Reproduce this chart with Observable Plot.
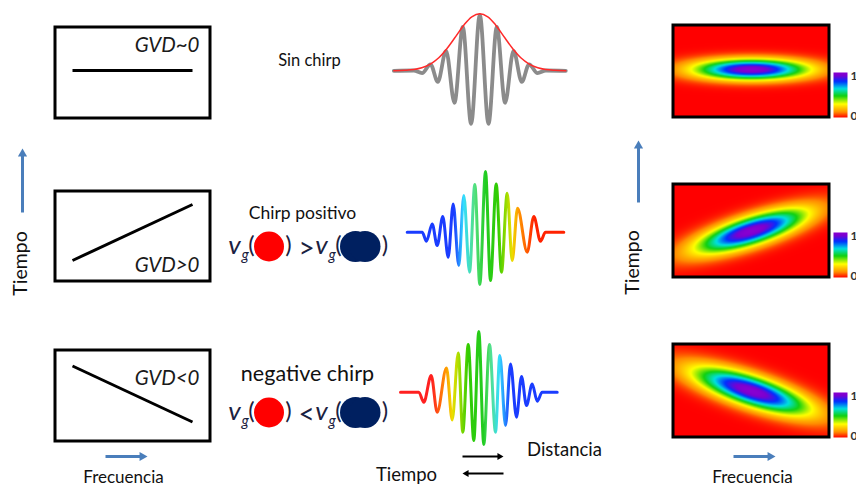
<!DOCTYPE html>
<html><head><meta charset="utf-8">
<script src="https://cdn.jsdelivr.net/npm/d3@7"></script>
<script src="https://cdn.jsdelivr.net/npm/@observablehq/plot@0.6"></script>
<style>html,body{margin:0;padding:0;overflow:hidden;background:#fff}</style>
</head><body><div id="chart"></div>
<script>
// ---------------- data ----------------
const gvdLabels = ["GVD~0", "GVD>0", "GVD<0"];
const gvdSlope = [0, 1, -1];
const chirpLabels = ["Sin chirp", "Chirp positivo", "negative chirp"];
const vgRelation = [">", "<"];
const timeLabel = "Tiempo";
const freqLabel = "Frecuencia";
const distLabel = "Distancia";
const colorbarTicks = ["1", "0"];

// pulse extrema: [time offset, field amplitude]
const grayPulse = [[-86,0],[-66,0.3],[-57.7,-2.3],[-49.3,6.5],[-42,-11],[-33.7,20],[-25.3,-32],[-17,44],[-8.7,-53],[0,56],
  [8.7,-53],[17,44],[25.3,-32],[33.7,20],[42,-11],[49.3,6.5],[57.7,-2.3],[66,0.3],[86,0]];
const grayEnvelope = [[-86,0],[-75,0.5],[-66,1.3],[-58,3],[-49,7],[-41,13],[-33,22],[-25,33],[-16,45.6],[-8,54],[0,57],
  [8,54],[16,45.6],[25,33],[33,22],[41,13],[49,7],[58,3],[66,1.3],[75,0.5],[86,0]];
const posChirp = [[-78.3,0],[-63.3,0],[-59,-9],[-53.3,8.3],[-48.3,-13.3],[-42.7,15.7],[-37.3,-25],[-32.3,28.3],[-26.7,-33.3],
  [-21.7,36.7],[-16,-40],[-10.7,47.7],[-5.7,-52.3],[0,60.7],[5,-48.3],[10.7,48.3],[16,-40],[21.7,39],[26.7,-28.3],[32,24],
  [41.7,-20],[48.3,15.7],[55,-9],[60,0],[78.3,0]];
const negChirp = [[-78.3,0],[-60,0],[-55,-10],[-47.6,16.7],[-41.6,-20],[-32.3,24.3],[-26.6,-27.7],[-20.6,39.3],[-16,-40],
  [-10.6,47.7],[-5,-48.3],[0,60.7],[5,-52.3],[10.7,47.7],[16.7,-40],[21,36.7],[26.7,-33.3],[31.7,28.3],[37.7,-25],[42.7,15.7],
  [47.7,-13.3],[53.4,8.3],[58.4,-9],[63.4,0],[78.4,0]];
const posColors = [[0,"#1a3cff"],[0.3,"#1a3cff"],[0.36,"#33ddff"],[0.43,"#55e080"],[0.5,"#22cc22"],[0.58,"#33cc00"],
  [0.64,"#aadd00"],[0.67,"#eedd00"],[0.71,"#ff9900"],[0.77,"#ff5500"],[0.81,"#ff2200"],[1,"#ff2200"]];
const negColors = [[0,"#ff2020"],[0.2,"#ff2020"],[0.29,"#ff9900"],[0.33,"#eedd00"],[0.37,"#aadd00"],[0.43,"#33cc00"],
  [0.53,"#22cc22"],[0.57,"#55e080"],[0.63,"#33ddff"],[0.7,"#1a3cff"],[1,"#1a3cff"]];

// time-frequency (Wigner) ellipses: semi-axes and tilt in degrees
const wigner = [{a: 55, b: 10, tilt: 0}, {a: 55, b: 13.5, tilt: 17.5}, {a: 58, b: 14.5, tilt: -18}];
const heatDomain = [0, 0.12, 0.3, 0.48, 0.64, 0.8, 0.93, 1];
const heatColors = ["#ff0000","#ff8c00","#ffff00","#10d010","#00e0e0","#0030ff","#7a00d0","#8a00d0"];

// ---------------- layout ----------------
const W = 856, H = 486;
const leftBox = {x1: 55, x2: 210, rows: [[27,118],[191,281],[350,441]], lineY: [70, 232, 393.5], lineX: [72, 192], half: 28};
const gvdPos = {x: 199, y: [45, 265, 378]};
const rightBox = {x1: 673, x2: 829, rows: [[25,117],[184,277],[344,437]]};
const cbar = {x1: 833, x2: 847, rows: [[72,117],[232,277],[392,437]]};
const pulseCenters = [[479.3, 70.3], [485, 231.7], [478.3, 391.7]];
const blue = "#4a7ebb";

const pts = (arr, [cx, cy]) => arr.map(([t, f]) => ({x: cx + t, y: cy - f}));

const marks = [];
// left boxes
leftBox.rows.forEach(([y1, y2], i) => {
  marks.push(Plot.rect([0], {x1: leftBox.x1, x2: leftBox.x2, y1, y2, fill: "white", stroke: "black", strokeWidth: 3}));
  const yc = leftBox.lineY[i], s = gvdSlope[i];
  marks.push(Plot.link([0], {x1: leftBox.lineX[0], x2: leftBox.lineX[1], y1: yc + s * leftBox.half, y2: yc - s * leftBox.half,
    stroke: "black", strokeWidth: 3}));
});
marks.push(Plot.text(gvdLabels, {x: gvdPos.x, y: (d, i) => gvdPos.y[i], text: d => d, textAnchor: "end",
  fontSize: 20.5, fontStyle: "italic", fill: "#1a1a1a"}));

// right boxes: heatmaps
rightBox.rows.forEach(([y1, y2], i) => {
  const cx = (rightBox.x1 + rightBox.x2) / 2;
  const yc = (y1 + y2) / 2 - (i === 0 ? 2 : 0);
  const {a, b, tilt} = wigner[i];
  const t = tilt * Math.PI / 180, c = Math.cos(t), sn = Math.sin(t);
  marks.push(Plot.raster({
    x1: rightBox.x1, x2: rightBox.x2, y1, y2, width: 156, height: Math.round(y2 - y1), imageRendering: "auto",
    fill: (x, y) => { const dx = x - cx, dy = y - yc; const u = dx * c - dy * sn, w = dx * sn + dy * c;
      return Math.exp(-(u * u / (a * a) + w * w / (b * b))); }
  }));
  marks.push(Plot.rect([0], {x1: rightBox.x1, x2: rightBox.x2, y1, y2, stroke: "black", strokeWidth: 3, fill: "none"}));
});
// colorbars
cbar.rows.forEach(([y1, y2]) => {
  marks.push(Plot.raster({x1: cbar.x1, x2: cbar.x2, y1, y2, width: 1, height: 45, imageRendering: "auto",
    fill: (x, y) => (y2 - y) / (y2 - y1)}));
  marks.push(Plot.text(colorbarTicks, {x: 850, y: (d, i) => i === 0 ? y1 + 4 : y2 - 1, text: d => d, textAnchor: "start",
    fontSize: 12, fontWeight: "bold", fill: "#333"}));
});

// pulses
marks.push(Plot.line(pts(grayPulse, pulseCenters[0]), {x: "x", y: "y", curve: "monotone-x", stroke: "#858585", strokeWidth: 3.8, strokeOpacity: 0.95}));
marks.push(Plot.line(pts(grayEnvelope, pulseCenters[0]), {x: "x", y: "y", curve: "catmull-rom", stroke: "#ff2a2a", strokeWidth: 1.5}));
marks.push(Plot.line(pts(posChirp, pulseCenters[1]), {x: "x", y: "y", curve: "monotone-x", stroke: "url(#gPos)", strokeWidth: 3}));
marks.push(Plot.line(pts(negChirp, pulseCenters[2]), {x: "x", y: "y", curve: "monotone-x", stroke: "url(#gNeg)", strokeWidth: 3}));

// chirp labels
marks.push(Plot.text([chirpLabels[0]], {x: 309, y: 60, text: d => d, fontSize: 16.5, fill: "#111"}));
marks.push(Plot.text([chirpLabels[1]], {x: 302, y: 213, text: d => d, fontSize: 17.5, fill: "#111"}));
marks.push(Plot.text([chirpLabels[2]], {x: 307, y: 374, text: d => d, fontSize: 21.5, fill: "#111"}));

// group velocity relations
const vgRows = [253, 419];
vgRows.forEach((base, i) => {
  const yc = base - 7;
  const vg = [{x: 234, x2: 244.5}, {x: 321, x2: 331.5}];
  vg.forEach(v => {
    marks.push(Plot.text(["v"], {x: v.x, y: base, text: d => d, fontSize: 26, fontStyle: "italic", lineAnchor: "bottom", fill: "#1b2140"}));
    marks.push(Plot.text(["g"], {x: v.x2, y: base + 6, text: d => d, fontSize: 15, fontStyle: "italic", lineAnchor: "bottom", fill: "#1b2140"}));
  });
  marks.push(Plot.text(["(", ")", "(", ")"], {x: (d, j) => [251, 288, 338, 384.5][j], y: base - 1,
    text: d => d, fontSize: 24, lineAnchor: "bottom", fill: "#1b2140"}));
  marks.push(Plot.text([vgRelation[i]], {x: 306, y: base + 4, text: d => d, fontSize: 28, lineAnchor: "bottom", fill: "#1b2140"}));
  marks.push(Plot.dot([0], {x: 268.5, y: yc, r: 15, fill: "#ff0000"}));
  marks.push(Plot.dot([0, 1], {x: (d) => d ? 364.5 : 355, y: yc, r: 15.5, fill: "#002060"}));
});

// axis labels
marks.push(Plot.text([timeLabel], {x: 20, y: 263, text: d => d, rotate: -90, fontSize: 19.5, fill: "#111"}));
marks.push(Plot.text([timeLabel], {x: 632, y: 262, text: d => d, rotate: -90, fontSize: 19.5, fill: "#111"}));
marks.push(Plot.text([freqLabel], {x: 123, y: 482, text: d => d, fontSize: 17, lineAnchor: "bottom", fill: "#111"}));
marks.push(Plot.text([freqLabel], {x: 752, y: 482, text: d => d, fontSize: 17, lineAnchor: "bottom", fill: "#111"}));
marks.push(Plot.text([timeLabel], {x: 406, y: 480, text: d => d, fontSize: 18.5, lineAnchor: "bottom", fill: "#111"}));
marks.push(Plot.text([distLabel], {x: 564, y: 455, text: d => d, fontSize: 18.5, lineAnchor: "bottom", fill: "#111"}));

// arrows
const arrows = [
  {x1: 22, y1: 212, x2: 22, y2: 155, tipX: 22, tipY: 148, rot: 0, color: blue, w: 3, r: 3.4},
  {x1: 638, y1: 202, x2: 638, y2: 147, tipX: 638, tipY: 140, rot: 0, color: blue, w: 3, r: 3.4},
  {x1: 105, y1: 456, x2: 141, y2: 456, tipX: 147, tipY: 456, rot: 90, color: blue, w: 3, r: 3.4},
  {x1: 733, y1: 456, x2: 769, y2: 456, tipX: 775, tipY: 456, rot: 90, color: blue, w: 3, r: 3.4},
  {x1: 462, y1: 456, x2: 498, y2: 456, tipX: 503, tipY: 456, rot: 90, color: "black", w: 2, r: 2.6},
  {x1: 503, y1: 473, x2: 467, y2: 473, tipX: 462, tipY: 473, rot: -90, color: "black", w: 2, r: 2.6}
];
arrows.forEach(a => {
  marks.push(Plot.link([a], {x1: "x1", y1: "y1", x2: "x2", y2: "y2", stroke: a.color, strokeWidth: a.w}));
  const hOff = a.r * 1.55;
  const dx = a.rot === 90 ? -hOff : a.rot === -90 ? hOff : 0, dy = a.rot === 0 ? hOff : 0;
  marks.push(Plot.dot([a], {x: d => d.tipX + dx, y: d => d.tipY + dy, symbol: "triangle", r: a.r, rotate: a.rot, fill: a.color, stroke: "none"}));
});

const chart = Plot.plot({
  width: W, height: H, margin: 0,
  x: {domain: [0, W], range: [0, W], axis: null},
  y: {domain: [0, H], range: [0, H], axis: null},
  color: {type: "linear", domain: heatDomain, range: heatColors},
  style: {fontFamily: "Lato, 'Open Sans', sans-serif", background: "white", overflow: "hidden"},
  marks
});
const stops = arr => arr.map(([o, c]) => `<stop offset="${o}" stop-color="${c}"/>`).join("");
chart.insertAdjacentHTML("afterbegin",
  `<defs><linearGradient id="gPos" x1="0" x2="1" y1="0" y2="0">${stops(posColors)}</linearGradient>` +
  `<linearGradient id="gNeg" x1="0" x2="1" y1="0" y2="0">${stops(negColors)}</linearGradient></defs>`);
document.getElementById("chart").appendChild(chart);
</script></body></html>
